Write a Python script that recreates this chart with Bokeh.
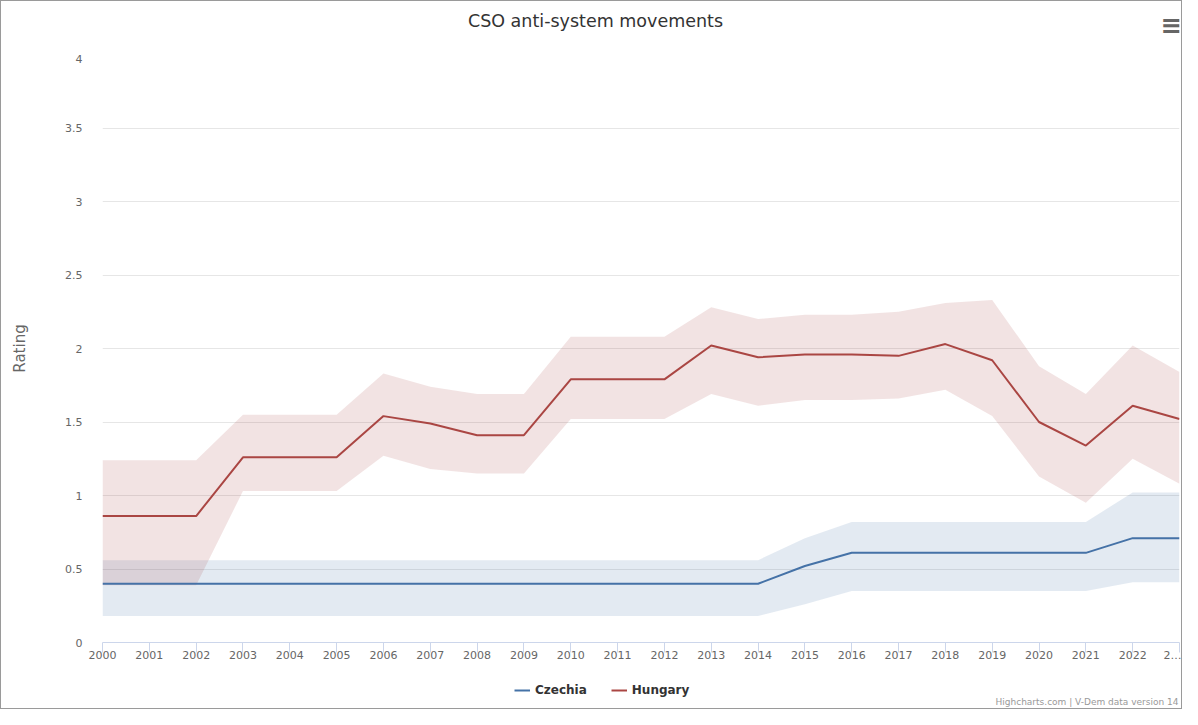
from bokeh.plotting import figure
from bokeh.layouts import column
from bokeh.models import Range1d, FixedTicker, Legend, LegendItem, Label, ColumnDataSource
from bokeh.embed import file_html
from bokeh.resources import INLINE

years = [2000, 2001, 2002, 2003, 2004, 2005, 2006, 2007, 2008, 2009, 2010, 2011,
         2012, 2013, 2014, 2015, 2016, 2017, 2018, 2019, 2020, 2021, 2022, 2023]

czechia_mean = [0.40, 0.40, 0.40, 0.40, 0.40, 0.40, 0.40, 0.40, 0.40, 0.40, 0.40, 0.40,
                0.40, 0.40, 0.40, 0.52, 0.61, 0.61, 0.61, 0.61, 0.61, 0.61, 0.71, 0.71]
czechia_low = [0.18, 0.18, 0.18, 0.18, 0.18, 0.18, 0.18, 0.18, 0.18, 0.18, 0.18, 0.18,
               0.18, 0.18, 0.18, 0.26, 0.35, 0.35, 0.35, 0.35, 0.35, 0.35, 0.41, 0.41]
czechia_high = [0.56, 0.56, 0.56, 0.56, 0.56, 0.56, 0.56, 0.56, 0.56, 0.56, 0.56, 0.56,
                0.56, 0.56, 0.56, 0.71, 0.82, 0.82, 0.82, 0.82, 0.82, 0.82, 1.02, 1.02]

hungary_mean = [0.86, 0.86, 0.86, 1.26, 1.26, 1.26, 1.54, 1.49, 1.41, 1.41, 1.79, 1.79,
                1.79, 2.02, 1.94, 1.96, 1.96, 1.95, 2.03, 1.92, 1.50, 1.34, 1.61, 1.52]
hungary_low = [0.39, 0.39, 0.39, 1.03, 1.03, 1.03, 1.27, 1.18, 1.15, 1.15, 1.52, 1.52,
               1.52, 1.69, 1.61, 1.65, 1.65, 1.66, 1.72, 1.54, 1.13, 0.95, 1.25, 1.08]
hungary_high = [1.24, 1.24, 1.24, 1.55, 1.55, 1.55, 1.83, 1.74, 1.69, 1.69, 2.08, 2.08,
                2.08, 2.28, 2.20, 2.23, 2.23, 2.25, 2.31, 2.33, 1.88, 1.69, 2.02, 1.84]

series_names = ["Czechia", "Hungary"]
y_ticks = [0, 0.5, 1, 1.5, 2, 2.5, 3, 3.5, 4]
y_tick_labels = ["0", "0.5", "1", "1.5", "2", "2.5", "3", "3.5", "4"]
last_year_label = "2…"
title_text = "CSO anti-system movements"
credits_text = "Highcharts.com | V-Dem data version 14"

FONT = "DejaVu Sans"
CZ = "#4572A7"
HU = "#AA4643"
W = 1180


def strip(fig):
    fig.outline_line_color = None
    fig.xgrid.grid_line_color = None
    fig.ygrid.grid_line_color = None
    fig.background_fill_color = "white"
    fig.border_fill_color = "white"


src = ColumnDataSource(dict(x=years, cm=czechia_mean, cl=czechia_low, ch=czechia_high,
                            hm=hungary_mean, hl=hungary_low, hh=hungary_high))

# ---- header: title + menu icon (frame is aligned with the main chart's frame)
top = figure(width=W, height=53, output_backend="svg", toolbar_location=None,
             x_range=Range1d(0, 1), y_range=Range1d(0, 1),
             x_axis_location=None, y_axis_location=None,
             min_border_left=101, min_border_right=2, min_border_top=0, min_border_bottom=0)
strip(top)
top.add_layout(Label(x=493, y=34, x_units="screen", y_units="screen", text=title_text,
                     text_align="center", text_baseline="middle", text_font=FONT,
                     text_font_size="17.5px", text_color="#333333"))
top.add_layout(Label(x=1069, y=30, x_units="screen", y_units="screen", text="≡",
                     text_align="center", text_baseline="middle", text_font=FONT,
                     text_font_size="26px", text_font_style="bold", text_color="#666666"))

# ---- main chart
p = figure(width=W, height=614, output_backend="svg", toolbar_location=None,
           x_range=Range1d(2000, 2023), y_range=Range1d(0, 4),
           min_border_left=101, min_border_right=2, min_border_top=0, min_border_bottom=26)
strip(p)

p.varea(x="x", y1="cl", y2="ch", source=src, fill_color=CZ, fill_alpha=0.15)
p.varea(x="x", y1="hl", y2="hh", source=src, fill_color=HU, fill_alpha=0.15)
p.line(x="x", y="cm", source=src, line_color=CZ, line_width=2)
p.line(x="x", y="hm", source=src, line_color=HU, line_width=2)

p.ygrid.grid_line_color = "#e6e6e6"
p.ygrid.grid_line_width = 1
p.ygrid.ticker = FixedTicker(ticks=y_ticks)

xa = p.xaxis[0]
xa.ticker = FixedTicker(ticks=years)
xa.major_label_overrides = {2023: last_year_label}
xa.axis_line_color = "#ccd6eb"
xa.major_tick_line_color = "#ccd6eb"
xa.major_tick_out = 10
xa.major_tick_in = 0
xa.minor_tick_line_color = None
xa.major_label_text_font = FONT
xa.major_label_text_font_size = "11px"
xa.major_label_text_color = "#666666"
xa.major_label_standoff = -4

ya = p.yaxis[0]
ya.ticker = FixedTicker(ticks=y_ticks)
ya.major_label_overrides = {t: l for t, l in zip(y_ticks, y_tick_labels)}
ya.axis_line_color = None
ya.major_tick_line_color = None
ya.minor_tick_line_color = None
ya.major_label_text_font = FONT
ya.major_label_text_font_size = "11px"
ya.major_label_text_color = "#666666"
ya.major_label_standoff = 14
ya.axis_label = "Rating"
ya.axis_label_text_font = FONT
ya.axis_label_text_font_size = "15px"
ya.axis_label_text_font_style = "normal"
ya.axis_label_text_color = "#666666"
ya.axis_label_standoff = 33

# ---- footer: legend + credits (legend keys use the same series, out of this strip's view)
bot = figure(width=W, height=40, output_backend="svg", toolbar_location=None,
             x_range=Range1d(0, 1), y_range=Range1d(0, 1),
             x_axis_location=None, y_axis_location=None,
             min_border_left=101, min_border_right=2, min_border_top=0, min_border_bottom=0)
strip(bot)
cz_key = bot.line(x="x", y="cm", source=src, line_color=CZ, line_width=2)
hu_key = bot.line(x="x", y="hm", source=src, line_color=HU, line_width=2)
legend = Legend(items=[LegendItem(label=series_names[0], renderers=[cz_key]),
                       LegendItem(label=series_names[1], renderers=[hu_key])],
                orientation="horizontal", location=(412, 11),
                border_line_color=None, background_fill_alpha=0,
                padding=0, margin=0, spacing=24, glyph_width=16, glyph_height=14,
                label_standoff=5, label_text_font=FONT, label_text_font_size="12px",
                label_text_font_style="bold", label_text_color="#333333")
bot.add_layout(legend, "center")
bot.add_layout(Label(x=1076, y=2, x_units="screen", y_units="screen", text=credits_text,
                     text_align="right", text_baseline="bottom", text_font=FONT,
                     text_font_size="9px", text_color="#999999"))

layout = column(top, p, bot, spacing=0)
layout.styles = {"border": "1px solid #9a9a9a"}

open("out.html", "w").write(file_html(layout, INLINE))
